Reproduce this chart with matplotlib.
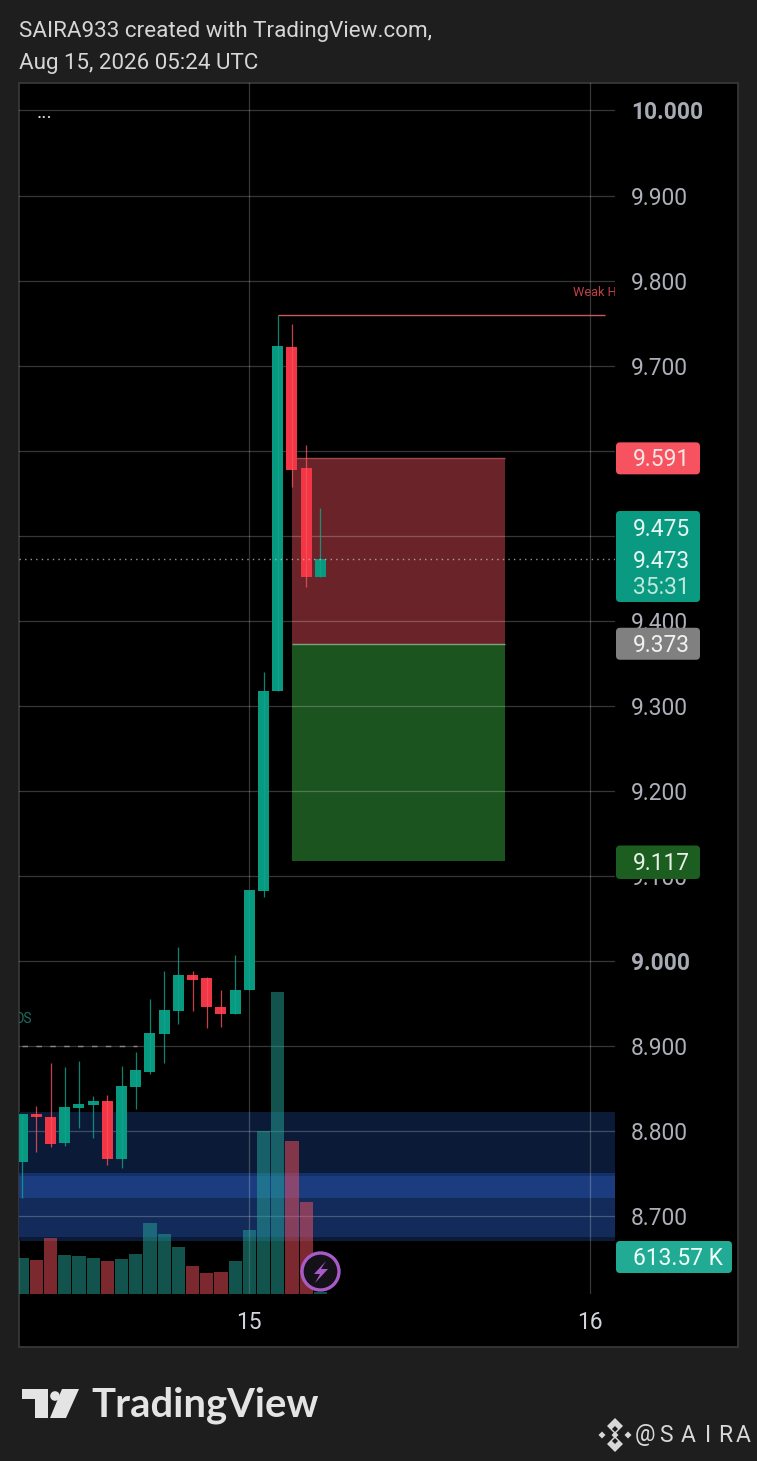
import matplotlib
matplotlib.use('Agg')
import matplotlib.pyplot as plt
from matplotlib.patches import Rectangle, FancyBboxPatch, Circle, Polygon

plt.rcParams['font.family'] = ['Roboto', 'DejaVu Sans']

# hourly candles, x = bar number, bar 16 is the "15" day tick
opens = [8.764, 8.820, 8.817, 8.786, 8.827, 8.831, 8.835, 8.767, 8.852, 8.869, 8.914,
         8.941, 8.984, 8.980, 8.946, 8.938, 8.966, 9.082, 9.317, 9.722, 9.580, 9.452]
highs = [8.820, 8.830, 8.880, 8.875, 8.882, 8.841, 8.842, 8.877, 8.893, 8.955, 8.988,
         9.016, 8.988, 8.981, 8.966, 9.007, 9.083, 9.340, 9.760, 9.749, 9.607, 9.533]
lows = [8.721, 8.775, 8.781, 8.782, 8.804, 8.792, 8.760, 8.757, 8.826, 8.867, 8.880,
        8.926, 8.941, 8.921, 8.922, 8.938, 8.966, 9.075, 9.317, 9.557, 9.440, 9.452]
closes = [8.820, 8.817, 8.785, 8.828, 8.832, 8.835, 8.767, 8.853, 8.872, 8.915, 8.942,
          8.984, 8.978, 8.946, 8.938, 8.966, 9.083, 9.317, 9.723, 9.577, 9.452, 9.473]
volumes = [11050, 10440, 17190, 11970, 11670, 11050, 10130, 10750, 12280, 21800, 18420,
           14430, 8600, 6450, 6750, 10130, 19650, 50040, 92710, 46970, 28240, 613.57]

yticks = [8.7, 8.8, 8.9, 9.0, 9.1, 9.2, 9.3, 9.4, 9.5, 9.6, 9.7, 9.8, 9.9, 10.0]
xticks = [16, 40]
xticklabels = ['15', '16']

stop_price = 9.591
entry_price = 9.373
target_price = 9.117
last_price = 9.473
swing_high = 9.760

band_outer = [8.671, 8.822]
band_lower = [8.675, 8.721]
band_mid = [8.721, 8.751]

GREEN = '#089981'
RED = '#F23645'

fig = plt.figure(figsize=(7.57, 14.61), dpi=100, facecolor='#1E1E1E')


def fig_rect(x0, y0, x1, y1):
    # pixels from the top left -> figure fractions
    return [x0 / 757, 1 - y1 / 1461, (x1 - x0) / 757, (y1 - y0) / 1461]


# page and pane background, pixel coordinates
bg = fig.add_axes([0, 0, 1, 1], zorder=0)
bg.set_xlim(0, 757)
bg.set_ylim(1461, 0)
bg.axis('off')
bg.add_patch(Rectangle((19, 83), 719, 1264, fc='black', ec='#3A3A3A', lw=1.2))

# price pane: bands, boxes and grid at the bottom
ax = fig.add_axes(fig_rect(19, 83, 615, 1294), zorder=1)
ax.set_facecolor('none')
ax.set_xlim(-0.22, 41.75)
ax.set_ylim(8.6085, 10.0323)
for s in ax.spines.values():
    s.set_visible(False)
ax.axhspan(band_outer[0], band_outer[1], color='#0B1A36', lw=0, zorder=1)
ax.axhspan(band_lower[0], band_lower[1], color='#132B5A', lw=0, zorder=1.1)
ax.axhspan(band_mid[0], band_mid[1], color='#14306A', lw=0, zorder=1.1)
ax.axhspan(band_mid[0], band_mid[1] - 0.004, color='#1B3D80', lw=0, zorder=1.2)
ax.bar(26.5, stop_price - entry_price, width=15.0, bottom=entry_price, color='#6A2429', lw=0, zorder=1.5)
ax.bar(26.5, entry_price - target_price, width=15.0, bottom=target_price, color='#1B541F', lw=0, zorder=1.5)
ax.hlines(stop_price, 19, 34, color='#A0474C', lw=1, zorder=1.6)
ax.hlines(entry_price, 19, 34, color='#7FA07F', lw=1, zorder=1.6)
ax.set_axisbelow(False)

# volume
vax = ax.twinx()
vax.set_zorder(2)
vax.set_facecolor('none')
vax.set_ylim(0, 371777)
vax.axis('off')
vol_colors = ['#26A69A' if c >= o else '#F7525F' for o, c in zip(opens, closes)]
vax.bar(range(len(volumes)), volumes, width=0.93, color=vol_colors, alpha=0.5, lw=0)

# candles on top
cax = ax.twinx()
cax.set_zorder(3)
cax.set_facecolor('none')
cax.set_ylim(ax.get_ylim())
cax.axis('off')
for i in range(len(opens)):
    col = GREEN if closes[i] >= opens[i] else RED
    wick = '#10A58C' if closes[i] >= opens[i] else '#F7525F'
    cax.vlines(i, lows[i], highs[i], color=wick, lw=0.9, alpha=0.8)
    cax.bar(i, abs(closes[i] - opens[i]), width=0.78, bottom=min(opens[i], closes[i]), color=col, lw=0)

cax.hlines(swing_high, 18, 41.05, color='#C85A5E', lw=1)
cax.hlines(last_price, -0.2, 41.75, color='#C8C8C8', lw=1, linestyles=(0, (1, 3)), alpha=0.75)
cax.hlines(8.9, 0, 8.1, color='#8A8A8A', lw=1, linestyles=(0, (4, 6)))
cax.text(38.8, 9.786, 'Weak H', color='#C0404A', fontsize=9.2, ha='left', va='center', clip_on=True)
cax.text(-0.55, 8.932, 'OS', color='#1F6F62', fontsize=10, ha='left', va='center', clip_on=True)
cax.text(1.05, 9.997, '...', color='#E0E0E0', fontsize=14, ha='left', va='center')

# ticks have to be set after twinx, it puts them back on the left
ax.set_yticks(yticks)
ax.set_yticklabels(['%.3f' % t for t in yticks], fontsize=16.4, color='#ADB0B8')
ax.yaxis.tick_right()
ax.set_xticks(xticks)
ax.set_xticklabels(xticklabels, fontsize=16.4, color='#D1D4DC')
ax.tick_params(axis='both', length=0)
ax.tick_params(axis='y', pad=11.5)
ax.tick_params(axis='x', pad=12)
ax.grid(True, color='#FFFFFF', alpha=0.22, lw=0.9, zorder=2)
for lab in ax.get_yticklabels():
    if lab.get_text() in ('10.000', '9.000'):
        lab.set_fontweight('bold')
        lab.set_color('#A8ABB3')

# labels and branding, pixel coordinates
fg = fig.add_axes([0, 0, 1, 1], zorder=10)
fg.set_xlim(0, 757)
fg.set_ylim(1461, 0)
fg.axis('off')
fg.patch.set_alpha(0)


def price_y(p):
    return 1461 - ax.transData.transform((0, p))[1]


def tag(y0, y1, x1, color, lines):
    fg.add_patch(FancyBboxPatch((616, y0), x1 - 616, y1 - y0,
                                boxstyle='round,pad=0,rounding_size=4', fc=color, lw=0))
    for txt, ty, tc in lines:
        fg.text(690 if x1 < 710 else 723, ty, txt, color=tc, fontsize=16.4, ha='right', va='center')


tag(price_y(stop_price) - 16, price_y(stop_price) + 16, 700, '#F7525F', [('9.591', price_y(stop_price) + 1, '#F5E6E6')])
tag(511, 602, 700, '#0A9A82', [('9.475', 529, '#E6F5F0'), ('9.473', 561, '#E6F5F0'), ('35:31', 587, '#BDE8DC')])
tag(price_y(entry_price) - 16, price_y(entry_price) + 16, 700, '#808080', [('9.373', price_y(entry_price) + 2, '#F2F2F2')])
tag(price_y(target_price) - 16, price_y(target_price) + 17.5, 700, '#1B5E20', [('9.117', price_y(target_price) + 2, '#E8F0E8')])
tag(1241, 1273, 732, '#22AB94', [('613.57 K', 1258.5, '#EFFFFA')])

# lightning button
fg.add_patch(Circle((320.5, 1271.5), 18.5, fc='#141118', ec='#A85BC8', lw=2.4))
fg.add_patch(Polygon([(326, 1261), (314, 1274), (320, 1274), (315, 1283), (328, 1269), (321, 1269)],
                     closed=True, fc='#A85BC8', lw=0))

fg.text(19, 32, 'SAIRA933 created with TradingView.com,', color='#D6D6D6', fontsize=16.15, va='center')
fg.text(19, 63.5, 'Aug 15, 2026 05:24 UTC', color='#D6D6D6', fontsize=16.15, va='center')

# TradingView mark
logo = '#E4E4E4'
fg.add_patch(Polygon([(22, 1389), (48, 1389), (48, 1418), (35, 1418), (35, 1399), (22, 1399)], closed=True, fc=logo, lw=0))
fg.add_patch(Circle((55, 1396), 4.8, fc=logo, lw=0))
fg.add_patch(Polygon([(62, 1389), (79, 1389), (66, 1418), (50, 1418)], closed=True, fc=logo, lw=0))
fg.text(91, 1405, 'TradingView', color=logo, fontsize=28.8, fontweight='bold', family=['Lato', 'DejaVu Sans'], va='center')

# exchange mark and handle
mark = '#D8D8D8'
for cx, cy, r in [(615, 1426, 8), (615, 1444, 8), (602, 1435, 3.5), (628, 1435, 3.5)]:
    fg.add_patch(Polygon([(cx, cy - r), (cx + r, cy), (cx, cy + r), (cx - r, cy)], closed=True, fc=mark, lw=0))
for cx, cy, r in [(615, 1429, 3), (615, 1441, 3)]:
    fg.add_patch(Polygon([(cx, cy - r), (cx + r, cy), (cx, cy + r), (cx - r, cy)], closed=True, fc='#1E1E1E', lw=0))
fg.add_patch(Polygon([(615, 1431.5), (618.5, 1435), (615, 1438.5), (611.5, 1435)], closed=True, fc=mark, lw=0))
for ch, x in zip('@SAIRA', [645, 666, 688, 708, 725, 743]):
    fg.text(x, 1435, ch, color=mark, fontsize=16.5, ha='center', va='center')

fig.savefig('out.png', dpi=100, facecolor=fig.get_facecolor())
